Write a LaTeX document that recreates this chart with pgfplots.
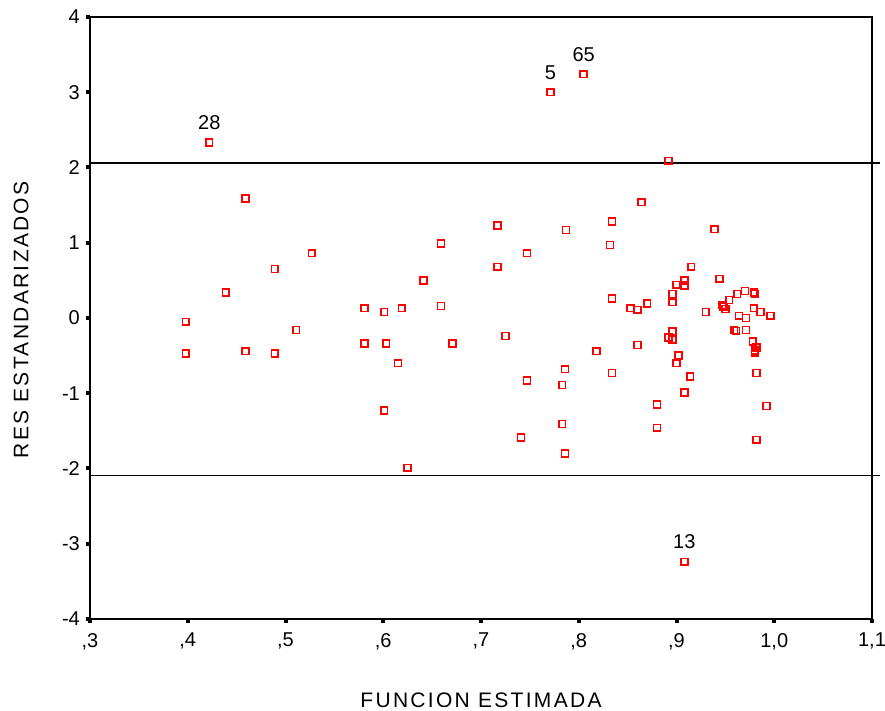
\documentclass[border=0pt]{standalone}
\usepackage{fontspec}
\setmainfont{Liberation Sans}
\newfontfamily\labfont[LetterSpace=11]{Liberation Sans}
\usepackage{pgfplots}
\pgfplotsset{compat=1.18}

% standardized residuals against the estimated function
\pgfplotstableread{
x y
0.398 -0.05
0.398 -0.47
0.439 0.34
0.459 1.59
0.459 -0.44
0.489 0.65
0.489 -0.47
0.511 -0.16
0.527 0.86
0.581 0.13
0.581 -0.34
0.601 0.08
0.603 -0.34
0.601 -1.23
0.615 -0.60
0.619 0.13
0.625 -1.99
0.641 0.50
0.659 0.99
0.659 0.16
0.671 -0.34
0.717 1.23
0.717 0.68
0.725 -0.24
0.741 -1.59
0.747 0.86
0.747 -0.83
0.783 -0.89
0.783 -1.41
0.786 -0.68
0.786 -1.80
0.787 1.17
0.818 -0.44
0.832 0.97
0.834 1.28
0.834 0.26
0.834 -0.73
0.853 0.13
0.860 0.11
0.860 -0.36
0.864 1.54
0.870 0.19
0.880 -1.15
0.880 -1.46
0.892 2.09
0.892 -0.26
0.896 -0.18
0.896 -0.29
0.896 0.32
0.896 0.21
0.900 0.44
0.900 -0.60
0.902 -0.50
0.908 0.50
0.908 0.43
0.908 -0.99
0.914 -0.78
0.915 0.68
0.930 0.08
0.939 1.18
0.944 0.52
0.947 0.17
0.948 0.15
0.950 0.12
0.954 0.24
0.959 -0.16
0.961 -0.17
0.962 0.32
0.964 0.03
0.970 0.36
0.971 0.00
0.971 -0.16
0.978 -0.31
0.979 0.34
0.980 0.32
0.979 0.13
0.980 -0.43
0.980 -0.46
0.982 -0.39
0.982 -0.73
0.982 -1.62
0.986 0.08
0.992 -1.17
0.996 0.03
}\residuals

% cases outside the +-2 band, with their case numbers
\pgfplotstableread{
x y lab
0.422 2.33 28
0.771 3.00 5
0.805 3.24 65
0.908 -3.24 13
}\outliers

\begin{document}
\begin{tikzpicture}
\begin{axis}[
  scale only axis,
  width=782pt, height=602pt,
  xmin=0.3, xmax=1.1, ymin=-4, ymax=4,
  xtick={0.3,0.4,0.5,0.6,0.7,0.8,0.9,1.0,1.1},
  xticklabels={{,3},{,4},{,5},{,6},{,7},{,8},{,9},{1,0},{1,1}},
  ytick={-4,-3,-2,-1,0,1,2,3,4},
  yticklabels={{-4},{-3},{-2},{-1},{0},{1},{2},{3},{4}},
  tick pos=left,
  tick align=outside,
  major tick length=4pt,
  tick style={line width=4pt, black},
  axis line style={line width=2pt},
  tick label style={font=\fontsize{20}{24}\selectfont, inner sep=0pt},
  xticklabel style={yshift=-10pt},
  yticklabel style={xshift=-6pt},
  xlabel={FUNCION ESTIMADA},
  ylabel={RES ESTANDARIZADOS},
  label style={font=\labfont\fontsize{21}{25}\selectfont},
  xlabel style={at={(axis description cs:0.5,-0.1346)}, anchor=center},
  ylabel style={at={(axis description cs:-0.0882,0.497)}, anchor=center},
  clip=false,
]
\draw[line width=1.3pt] (axis cs:0.3,2.06) -- (axis cs:1.108,2.06);
\draw[line width=1.3pt] (axis cs:0.3,-2.09) -- (axis cs:1.108,-2.09);
\addplot[only marks, mark=square, mark size=3.4pt,
  mark options={draw=red, line width=1.6pt}] table[x=x, y=y] {\residuals};
\addplot[only marks, mark=square, mark size=3.4pt,
  mark options={draw=red, line width=1.6pt},
  point meta=explicit symbolic,
  nodes near coords,
  every node near coord/.append style={font=\fontsize{20}{24}\selectfont,
    anchor=base, inner sep=0pt, yshift=13pt, text=black}]
  table[x=x, y=y, meta=lab] {\outliers};
\coordinate (bl) at (rel axis cs:0,0);
\coordinate (tr) at (rel axis cs:1,1);
\end{axis}
\pgfresetboundingbox
\path ([shift={(-90pt,-92pt)}]bl) rectangle ([shift={(13pt,17pt)}]tr);
\end{tikzpicture}
\end{document}
